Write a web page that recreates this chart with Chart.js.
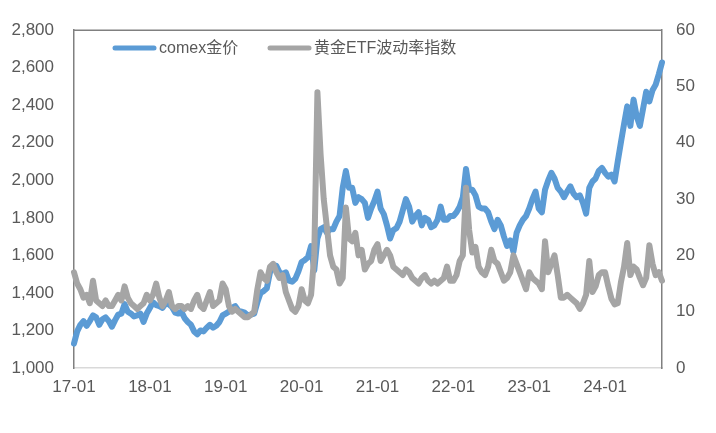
<!DOCTYPE html>
<html>
<head>
<meta charset="utf-8">
<script src="https://cdn.jsdelivr.net/npm/chart.js@4.4.1/dist/chart.umd.min.js"></script>
<style>
  html, body { margin: 0; padding: 0; background: #fff; }
  #wrap { width: 716px; height: 433px; }
</style>
</head>
<body>
<div id="wrap"><canvas id="c"></canvas></div>
<script>
// 半月一个点，2017-01 起
const tickLabels = ["17-01", "18-01", "19-01", "20-01", "21-01", "22-01", "23-01", "24-01"];
const seriesNames = ["comex金价", "黄金ETF波动率指数"];

// comex金价（左轴）
const gold2017 = [1130,1195,1230,1250,1225,1250,1280,1270,1230,1260,1270,1250,1220,1255,1285,1290,1340,1300,1290,1275,1280,1290,1245,1290];
const gold2018 = [1320,1350,1335,1330,1320,1345,1340,1325,1295,1290,1300,1265,1245,1230,1195,1180,1200,1195,1215,1230,1215,1225,1245,1280];
const gold2019 = [1290,1300,1320,1330,1305,1300,1295,1280,1285,1290,1350,1400,1410,1425,1510,1540,1545,1510,1500,1510,1465,1460,1475,1515];
const gold2020 = [1565,1575,1590,1650,1520,1690,1740,1750,1720,1740,1740,1780,1810,1960,2050,1960,1960,1880,1910,1900,1880,1800,1850,1890];
const gold2021 = [1940,1850,1820,1760,1690,1735,1745,1780,1840,1900,1860,1780,1810,1830,1760,1800,1790,1750,1760,1790,1860,1790,1790,1810];
const gold2022 = [1810,1830,1860,1910,2060,1950,1950,1920,1860,1850,1850,1830,1780,1740,1790,1760,1700,1650,1680,1620,1720,1760,1790,1810];
const gold2023 = [1850,1900,1940,1850,1830,1950,2000,2040,2010,1960,1940,1910,1940,1968,1930,1910,1920,1880,1822,1960,1994,2010,2050,2066];
const gold2024 = [2040,2020,2030,1994,2100,2202,2300,2394,2290,2430,2340,2290,2380,2472,2420,2480,2510,2566,2628];

// 黄金ETF波动率指数（右轴）
const gvz2017 = [17,15,14,12.5,13,11.5,15.5,12,11.5,11,12,11,11,12,13,12,14.5,12.5,11.5,11,10.5,11,11.5,13];
const gvz2018 = [12,13,15,12.5,11,12,13.5,11,10.5,11,11,10.5,11,10.5,12,13,11,10.5,12,13.5,11,11.5,12,15];
const gvz2019 = [14,11,10,10.5,10,9.5,9,9,9.5,10,14,17,16,15.5,18,18.5,17,16,16.5,13.5,12,10.5,10,11];
const gvz2020 = [14,12,11.5,13,20,49,38,30,25,20,18,17.5,15,16,28.5,23,22.5,24,20,21,17.5,18.5,19,21];
const gvz2021 = [22,19,20,21,20,18,17.5,17,16.5,17.5,17,16,15.5,15,16,16.5,15.5,15,15.5,15,15.5,16,18,15.5];
const gvz2022 = [15.5,16.5,19,20,32,24.5,20.5,21.5,18,17,16.5,18,21,19,18.5,17,15.5,16,17,20,18.5,17,15.5,14];
const gvz2023 = [17,16,15.5,15,14,22.5,17,18.5,20,16.5,12.5,12.5,13,12.5,12,11.5,10.5,11.5,13,19,13.5,14.5,16.5,17];
const gvz2024 = [17,14.5,12.3,11.3,11.5,15.2,18,22.2,16.5,18,17.5,16,14.7,16,21.8,18.5,16.5,17,15.5];

const gold = [].concat(gold2017, gold2018, gold2019, gold2020, gold2021, gold2022, gold2023, gold2024);
const gvz = [].concat(gvz2017, gvz2018, gvz2019, gvz2020, gvz2021, gvz2022, gvz2023, gvz2024);

const labels = gold.map((_, i) => {
  const yy = 17 + Math.floor(i / 24);
  const mm = Math.floor((i % 24) / 2) + 1;
  return `${yy}-${String(mm).padStart(2, "0")}`;
});

const BLUE = "#5b9bd5", GREY = "#a5a5a5", TXT = "#595959", AXIS = "#808080";
const FONT = "'Liberation Sans', 'Noto Sans CJK SC', sans-serif";

// 顶部边框 + 图例（画在绘图区内）
const frameLegend = {
  id: "frameLegend",
  afterDraw(chart) {
    const { ctx, chartArea: a } = chart;
    ctx.save();
    ctx.strokeStyle = AXIS;
    ctx.lineWidth = 1.5;
    ctx.beginPath();
    ctx.moveTo(a.left, a.top);
    ctx.lineTo(a.right, a.top);
    ctx.stroke();

    const items = [
      { x: 113, name: seriesNames[0], color: BLUE },
      { x: 268, name: seriesNames[1], color: GREY }
    ];
    const y = 48;
    ctx.lineCap = "round";
    ctx.lineWidth = 5;
    ctx.font = `16px ${FONT}`;
    ctx.textBaseline = "middle";
    ctx.fillStyle = TXT;
    items.forEach(it => {
      ctx.strokeStyle = it.color;
      ctx.beginPath();
      ctx.moveTo(it.x + 2, y);
      ctx.lineTo(it.x + 41, y);
      ctx.stroke();
      ctx.fillText(it.name, it.x + 46, y + 1);
    });
    ctx.restore();
  }
};

new Chart(document.getElementById("c"), {
  type: "line",
  data: {
    labels,
    datasets: [
      { label: seriesNames[0], data: gold, yAxisID: "y", borderColor: BLUE, order: 1 },
      { label: seriesNames[1], data: gvz, yAxisID: "y1", borderColor: GREY, order: 0 }
    ]
  },
  options: {
    responsive: true,
    maintainAspectRatio: false,
    animation: false,
    layout: { padding: { top: 22, left: 0, right: 0, bottom: 0 } },
    elements: {
      point: { radius: 0 },
      line: { borderWidth: 6, tension: 0, borderCapStyle: "round", borderJoinStyle: "round" }
    },
    plugins: { legend: { display: false }, tooltip: { enabled: false } },
    scales: {
      x: {
        offset: false,
        grid: { display: false, drawTicks: false },
        border: { display: true, color: "#d9d9d9", width: 1.5 },
        ticks: {
          autoSkip: false, maxRotation: 0, padding: 9,
          color: TXT, font: { family: FONT, size: 17 },
          callback: (v, i) => (i % 24 === 0 ? tickLabels[i / 24] : "")
        },
        afterFit: s => { s.height = 65; }
      },
      y: {
        position: "left", min: 1000, max: 2800,
        grid: { display: false, drawTicks: false },
        border: { display: true, color: AXIS, width: 1.5 },
        ticks: {
          stepSize: 200, padding: 20, color: TXT, font: { family: FONT, size: 17 },
          callback: v => v.toLocaleString("en-US")
        },
        afterFit: s => { s.width = 74; }
      },
      y1: {
        position: "right", min: 0, max: 60,
        grid: { display: false, drawTicks: false },
        border: { display: true, color: AXIS, width: 1.5 },
        ticks: { stepSize: 10, padding: 14, color: TXT, font: { family: FONT, size: 17 } },
        afterFit: s => { s.width = 54; }
      }
    }
  },
  plugins: [frameLegend]
});
</script>
</body>
</html>
